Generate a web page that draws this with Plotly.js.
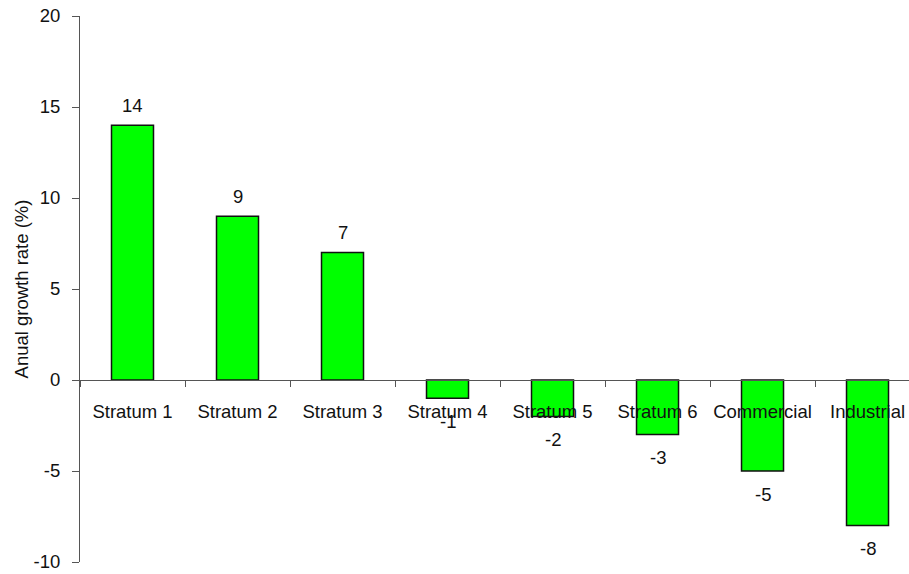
<!DOCTYPE html>
<html>
<head>
<meta charset="utf-8">
<script src="https://cdn.plot.ly/plotly-3.0.1.min.js"></script>
<style>html,body{margin:0;padding:0;background:#fff;}#chart{width:909px;height:574px;}</style>
</head>
<body>
<div id="chart"></div>
<script>
const categories = ["Stratum 1", "Stratum 2", "Stratum 3", "Stratum 4", "Stratum 5", "Stratum 6", "Commercial", "Industrial"];
const growthRate = [14, 9, 7, -1, -2, -3, -5, -8];
const yTickValues = [-10, -5, 0, 5, 10, 15, 20];

const FONT = "'Liberation Sans', Arial, sans-serif";
const FS = 18.5;

const trace = {
  type: 'bar',
  x: categories,
  y: growthRate,
  width: 0.4,
  marker: {color: '#00ff00', line: {color: '#111111', width: 1.5}},
  hoverinfo: 'none'
};

const annotations = categories.map((c, i) => ({
  x: c,
  y: growthRate[i],
  xref: 'x',
  yref: 'y',
  text: String(growthRate[i]),
  showarrow: false,
  yanchor: 'middle',
  xanchor: 'center',
  yshift: growthRate[i] >= 0 ? 20 : -23,
  font: {family: FONT, size: FS, color: '#111111'}
}));

const layout = {
  width: 909,
  height: 574,
  margin: {l: 80, r: 0, t: 16, b: 12, pad: 0},
  paper_bgcolor: '#ffffff',
  plot_bgcolor: '#ffffff',
  showlegend: false,
  font: {family: FONT, size: FS, color: '#111111'},
  xaxis: {
    type: 'category',
    range: [-0.5, 7.395],
    anchor: 'free',
    position: 1/3,
    showline: true,
    linecolor: '#555555',
    linewidth: 1,
    ticks: 'outside',
    tickson: 'boundaries',
    ticklen: 6,
    tickwidth: 1,
    tickcolor: '#555555',
    tickangle: 0,
    showgrid: false,
    zeroline: false,
    ticklabelstandoff: 15,
    tickfont: {family: FONT, size: FS, color: '#111111'},
    automargin: false,
    fixedrange: true
  },
  yaxis: {
    range: [-10, 20],
    tickvals: yTickValues,
    ticktext: yTickValues.map(String),
    showline: true,
    linecolor: '#555555',
    linewidth: 1,
    ticks: 'outside',
    ticklen: 7,
    tickwidth: 1,
    tickcolor: '#555555',
    showgrid: false,
    zeroline: false,
    ticklabelstandoff: 8,
    tickfont: {family: FONT, size: FS, color: '#111111'},
    title: {text: 'Anual growth rate (%)', font: {family: FONT, size: FS, color: '#111111'}, standoff: 0},
    automargin: false,
    fixedrange: true
  },
  annotations: annotations
};

Plotly.newPlot('chart', [trace], layout, {displayModeBar: false, staticPlot: true});
</script>
</body>
</html>
